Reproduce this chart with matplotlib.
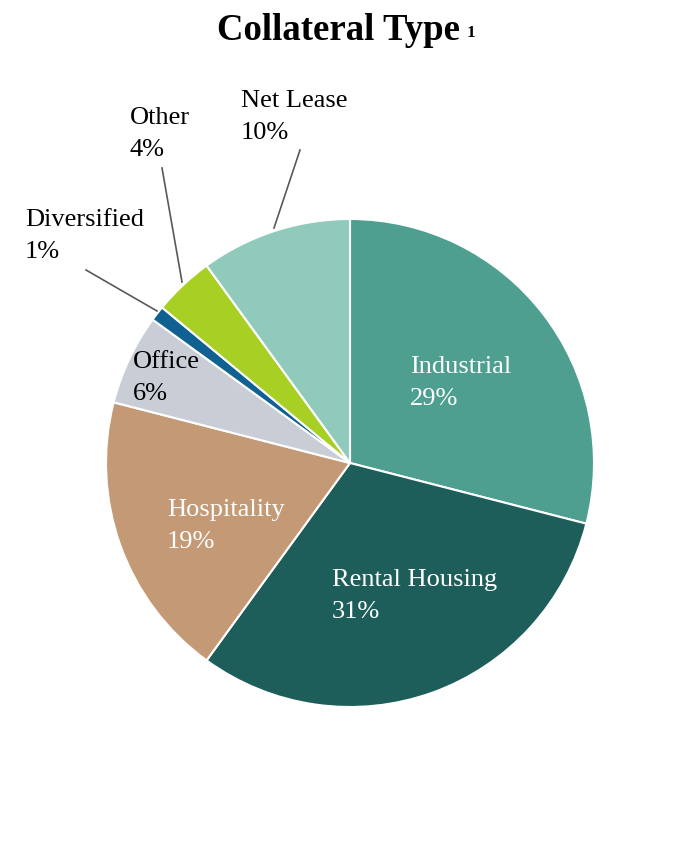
import matplotlib
matplotlib.use("Agg")
import matplotlib.pyplot as plt

categories = ["Industrial", "Rental Housing", "Hospitality", "Office", "Diversified", "Other", "Net Lease"]
shares = [29, 31, 19, 6, 1, 4, 10]
colors = ["#4E9F8F", "#1D5E5B", "#C49A76", "#C9CDD5", "#0E6190", "#A8CF24", "#8FCABB"]
title = "Collateral Type"
title_note = "1"

plt.rcParams['font.family'] = ['Liberation Serif', 'DejaVu Serif']

fig = plt.figure(figsize=(7, 8.5), dpi=100)
ax = fig.add_axes([0, 0, 1, 1])

H = 850
cx, cy, r = 350, H - 463, 244
ax.pie(shares, colors=colors, startangle=90, counterclock=False,
       center=(cx, cy), radius=r, frame=True,
       wedgeprops=dict(edgecolor='white', linewidth=1.5))
ax.set_xlim(0, 700)
ax.set_ylim(0, 850)
ax.set_aspect('auto')
ax.axis('off')

# label positions: (x, baseline of first line) in pixels from top-left
label_pos = {
    "Industrial": (410, 373, 'white'),
    "Rental Housing": (332, 586, 'white'),
    "Hospitality": (167, 516, 'white'),
    "Office": (133, 368, 'black'),
    "Diversified": (25, 226, 'black'),
    "Other": (130, 124, 'black'),
    "Net Lease": (241, 107, 'black'),
}
pitch = 32
for cat, val in zip(categories, shares):
    x, y, c = label_pos[cat]
    ax.text(x, H - y, cat, color=c, fontsize=19, ha='left', va='baseline')
    ax.text(x, H - y - pitch, f"{val}%", color=c, fontsize=19, ha='left', va='baseline')

# leader lines
leaders = {
    "Net Lease": ((300, 150), (274, 228)),
    "Other": ((162, 168), (182, 282)),
    "Diversified": ((86, 270), (157, 311)),
}
for (x0, y0), (x1, y1) in leaders.values():
    ax.plot([x0, x1], [H - y0, H - y1], color='#595959', linewidth=1.2)

ax.text(217, H - 40, title, fontsize=26.5, fontweight='bold', ha='left', va='baseline')
ax.text(467, H - 37, title_note, fontsize=12.5, fontweight='bold', ha='left', va='baseline')

fig.savefig("out.png", dpi=100)
